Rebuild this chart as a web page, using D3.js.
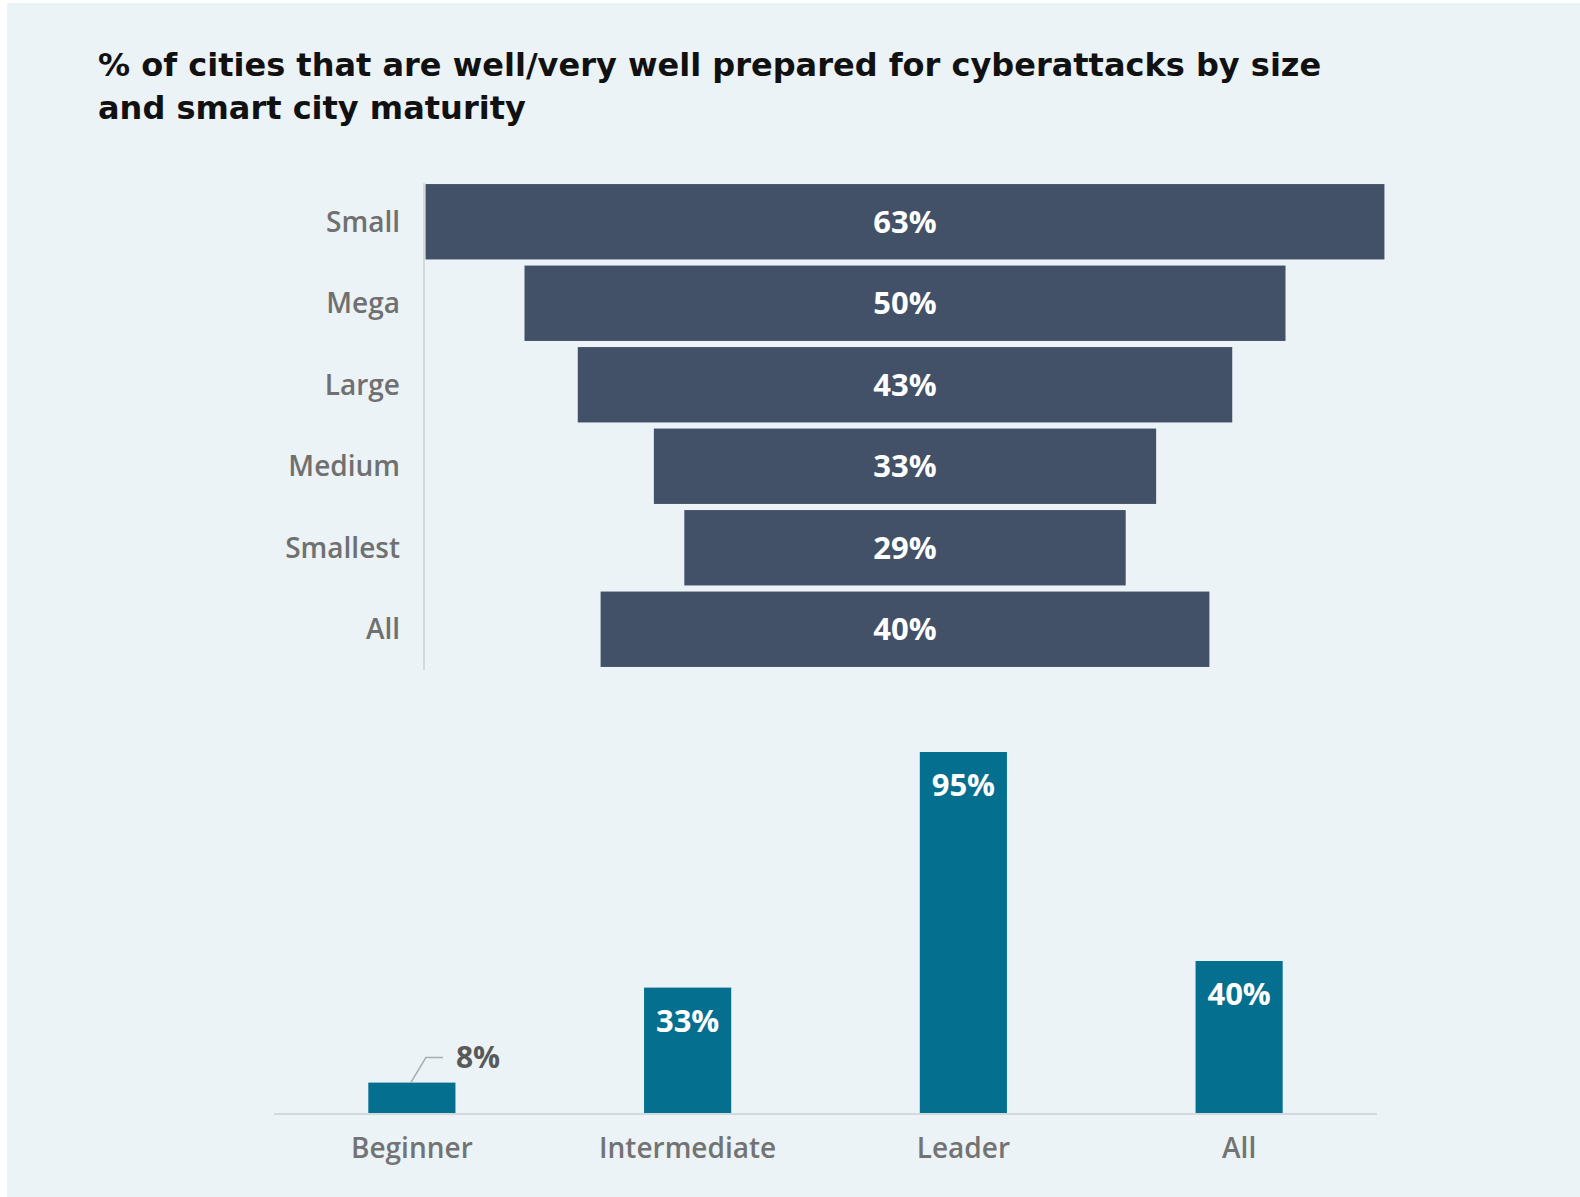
<!DOCTYPE html>
<html>
<head>
<meta charset="utf-8">
<script src="https://cdn.jsdelivr.net/npm/d3@7"></script>
<style>
  html, body { margin: 0; padding: 0; background: #ffffff; }
  svg { display: block; }
</style>
</head>
<body>
<svg id="chart" width="1580" height="1197"></svg>
<script>
// ---- data ----
const titleLines = [
  "% of cities that are well/very well prepared for cyberattacks by size",
  "and smart city maturity"
];
const sizeCategories = ["Small", "Mega", "Large", "Medium", "Smallest", "All"];
const sizeValues = [63, 50, 43, 33, 29, 40];
const maturityCategories = ["Beginner", "Intermediate", "Leader", "All"];
const maturityValues = [8, 33, 95, 40];

// ---- drawing ----
const svg = d3.select("#chart");

svg.append("rect")
  .attr("x", 7).attr("y", 3)
  .attr("width", 1573).attr("height", 1194)
  .attr("fill", "#EBF3F7");

// title
const title = svg.append("text")
  .attr("x", 98).attr("y", 76)
  .attr("font-family", "DejaVu Sans")
  .attr("font-weight", "bold")
  .attr("font-size", 32)
  .attr("fill", "#111111");
titleLines.forEach((t, i) => {
  title.append("tspan").attr("x", 98).attr("y", 76 + i * 43).text(t);
});

// ---- funnel (horizontal centered bars) ----
const funnelCenter = 905;
const xF = d3.scaleLinear().domain([0, 100]).range([0, 1522]);
const yF = d3.scaleBand().domain(sizeCategories).range([181, 670])
  .paddingInner(0.075).paddingOuter(0.0375);

svg.append("line")
  .attr("x1", 424).attr("x2", 424)
  .attr("y1", 183).attr("y2", 670)
  .attr("stroke", "#D3D8DC").attr("stroke-width", 2);

svg.append("g").selectAll("rect")
  .data(sizeCategories)
  .join("rect")
  .attr("x", (d, i) => funnelCenter - xF(sizeValues[i]) / 2)
  .attr("y", d => yF(d))
  .attr("width", (d, i) => xF(sizeValues[i]))
  .attr("height", yF.bandwidth())
  .attr("fill", "#425168");

svg.append("g").selectAll("text")
  .data(sizeCategories)
  .join("text")
  .attr("x", funnelCenter)
  .attr("y", d => yF(d) + yF.bandwidth() / 2)
  .attr("dy", "0.36em")
  .attr("text-anchor", "middle")
  .attr("font-family", "Open Sans")
  .attr("font-weight", "bold")
  .attr("font-size", 31)
  .attr("fill", "#ffffff")
  .text((d, i) => sizeValues[i] + "%");

svg.append("g").selectAll("text")
  .data(sizeCategories)
  .join("text")
  .attr("x", 400)
  .attr("y", d => yF(d) + yF.bandwidth() / 2)
  .attr("dy", "0.36em")
  .attr("text-anchor", "end")
  .attr("font-family", "Open Sans")
  .attr("font-weight", 600)
  .attr("font-size", 28)
  .attr("fill", "#707070")
  .text(d => d);

// ---- maturity column chart ----
const xM = d3.scaleBand().domain(maturityCategories).range([274, 1377])
  .paddingInner(0.684).paddingOuter(0.342);
const yM = d3.scaleLinear().domain([0, 100]).range([1113, 733]);

svg.append("line")
  .attr("x1", 274).attr("x2", 1377)
  .attr("y1", 1114).attr("y2", 1114)
  .attr("stroke", "#D3D8DC").attr("stroke-width", 2);

svg.append("g").selectAll("rect")
  .data(maturityCategories)
  .join("rect")
  .attr("x", d => xM(d))
  .attr("y", (d, i) => yM(maturityValues[i]))
  .attr("width", xM.bandwidth())
  .attr("height", (d, i) => yM(0) - yM(maturityValues[i]))
  .attr("fill", "#056F90");

// value labels
maturityCategories.forEach((d, i) => {
  const v = maturityValues[i];
  const cx = xM(d) + xM.bandwidth() / 2;
  const top = yM(v);
  if (top > yM(0) - 60) {
    // small bar: label outside with leader line
    svg.append("path")
      .attr("d", `M${cx - 1},${top} L${cx + 14},${top - 25} L${cx + 31},${top - 25}`)
      .attr("fill", "none")
      .attr("stroke", "#A8ADB2")
      .attr("stroke-width", 1.5);
    svg.append("text")
      .attr("x", cx + 44).attr("y", top - 25)
      .attr("dy", "0.36em")
      .attr("font-family", "Open Sans")
      .attr("font-weight", "bold")
      .attr("font-size", 30)
      .attr("fill", "#595959")
      .text(v + "%");
  } else {
    svg.append("text")
      .attr("x", cx).attr("y", top + 33)
      .attr("dy", "0.36em")
      .attr("text-anchor", "middle")
      .attr("font-family", "Open Sans")
      .attr("font-weight", "bold")
      .attr("font-size", 31)
      .attr("fill", "#ffffff")
      .text(v + "%");
  }
});

svg.append("g").selectAll("text")
  .data(maturityCategories)
  .join("text")
  .attr("x", d => xM(d) + xM.bandwidth() / 2)
  .attr("y", 1148)
  .attr("dy", "0.36em")
  .attr("text-anchor", "middle")
  .attr("font-family", "Open Sans")
  .attr("font-weight", 600)
  .attr("font-size", 28)
  .attr("fill", "#737373")
  .text(d => d);
</script>
</body>
</html>
